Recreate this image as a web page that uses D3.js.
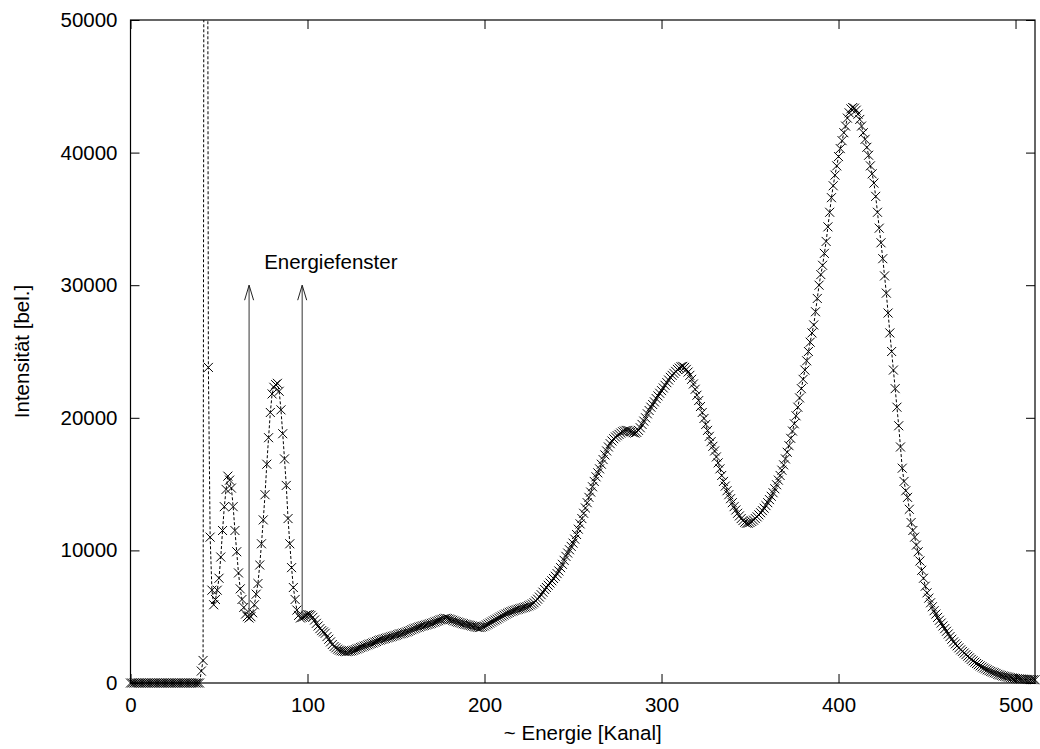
<!DOCTYPE html>
<html>
<head>
<meta charset="utf-8">
<script src="https://cdn.jsdelivr.net/npm/d3@7"></script>
<style>
body { margin: 0; background: #fff; }
text { font-family: "Liberation Sans", Arial, sans-serif; font-size: 20.5px; fill: #000; }
</style>
</head>
<body>
<svg></svg>
<script>
var width = 1040;
var height = 749;

// counts per channel, channel = index (0..511)
var counts = [
    0, 0, 0, 0, 0, 0, 0, 0, 0, 0,
    0, 0, 0, 0, 0, 0, 0, 0, 0, 0,
    0, 0, 0, 0, 0, 0, 0, 0, 0, 0,
    0, 0, 0, 0, 0, 0, 0, 0, 0, 0,
    900, 1700, 120000, 110000, 23800, 11000, 7000, 5900, 6300, 7000,
    7900, 9500, 11500, 13300, 14600, 15600, 15300, 14700, 13300, 11500,
    9900, 8300, 7100, 6300, 5700, 5200, 5000, 4900, 5000, 5300,
    5900, 6700, 7500, 8900, 10500, 12300, 14200, 16500, 18500, 20400,
    21800, 22300, 22500, 22600, 22000, 20600, 18800, 16900, 14900, 12400,
    10500, 8700, 7200, 6300, 5500, 5100, 4900, 4950, 5000, 5100,
    5150, 5150, 5100, 4950, 4750, 4500, 4300, 4100, 3950, 3850,
    3750, 3500, 3300, 3100, 2900, 2750, 2650, 2550, 2480, 2430,
    2400, 2380, 2360, 2380, 2400, 2430, 2470, 2520, 2570, 2620,
    2680, 2720, 2780, 2820, 2880, 2930, 2980, 3020, 3080, 3130,
    3200, 3240, 3280, 3320, 3360, 3400, 3440, 3480, 3520, 3560,
    3600, 3650, 3700, 3720, 3760, 3800, 3850, 3900, 3960, 4020,
    4080, 4130, 4180, 4220, 4270, 4310, 4340, 4380, 4420, 4460,
    4500, 4550, 4600, 4650, 4700, 4760, 4800, 4850, 4880, 4860,
    4820, 4780, 4730, 4680, 4630, 4590, 4550, 4510, 4470, 4430,
    4400, 4370, 4340, 4300, 4260, 4230, 4200, 4180, 4200, 4250,
    4300, 4380, 4450, 4520, 4600, 4680, 4750, 4820, 4900, 4980,
    5050, 5120, 5200, 5260, 5320, 5380, 5430, 5480, 5520, 5560,
    5600, 5640, 5680, 5720, 5760, 5820, 5880, 5960, 6050, 6180,
    6320, 6480, 6660, 6850, 7050, 7200, 7370, 7540, 7710, 7880,
    8050, 8250, 8450, 8700, 8950, 9250, 9550, 9800, 10050, 10300,
    10550, 10850, 11200, 11600, 12000, 12400, 12800, 13200, 13600, 14000,
    14400, 14800, 15200, 15550, 15850, 16150, 16500, 16850, 17200, 17500,
    17800, 18050, 18250, 18420, 18550, 18650, 18750, 18850, 18950, 19000,
    19050, 19050, 19000, 18950, 18880, 18850, 18900, 19050, 19250, 19500,
    19750, 20000, 20300, 20550, 20800, 21000, 21200, 21450, 21650, 21850,
    22050, 22250, 22450, 22650, 22850, 23050, 23200, 23350, 23500, 23650,
    23750, 23850, 23880, 23800, 23650, 23450, 23200, 22900, 22550, 22150,
    21700, 21300, 20850, 20400, 19950, 19500, 19050, 18600, 18200, 17850,
    17500, 17050, 16600, 16150, 15650, 15200, 14850, 14500, 14200, 13900,
    13600, 13300, 13050, 12800, 12600, 12400, 12250, 12120, 12050, 12050,
    12100, 12180, 12280, 12400, 12530, 12680, 12840, 13000, 13180, 13380,
    13600, 13830, 14080, 14350, 14650, 14950, 15300, 15650, 16050, 16450,
    16900, 17400, 17900, 18450, 19000, 19550, 20150, 20800, 21500, 22200,
    22900, 23600, 24300, 25000, 25700, 26400, 27000, 28000, 29000, 30000,
    30800, 31500, 32400, 33300, 34400, 35500, 36600, 37500, 38300, 39000,
    39700, 40300, 40900, 41500, 42000, 42600, 43000, 43300, 43400, 43350,
    43200, 42900, 42500, 42000, 41500, 41000, 40400, 39800, 39000, 38400,
    37700, 36700, 35500, 34300, 33200, 32000, 30700, 29400, 27900, 26400,
    25000, 23600, 22200, 20800, 19400, 17800, 16200, 15200, 14500, 14000,
    13100, 12100, 11500, 11000, 10400, 9900, 9200, 8500, 7900, 7300,
    6800, 6400, 6050, 5750, 5450, 5200, 4950, 4730, 4520, 4300,
    4100, 3900, 3700, 3500, 3300, 3100, 2950, 2800, 2650, 2500,
    2380, 2260, 2140, 2020, 1900, 1780, 1670, 1570, 1470, 1380,
    1290, 1210, 1130, 1060, 990, 930, 870, 820, 770, 720,
    650, 610, 570, 530, 500, 470, 440, 410, 380, 360,
    340, 325, 310, 300, 290, 280, 270, 265, 260, 255,
    250, 245
];

var xTicks = [0, 100, 200, 300, 400, 500];
var yTicks = [0, 10000, 20000, 30000, 40000, 50000];

// energy window arrows (channel) and annotation
var windowChannels = [67, 97];
var windowFrom = 5000;
var windowTo = 30000;
var windowLabel = "Energiefenster";
var windowLabelPos = [75.5, 31750];

var x = d3.scaleLinear().domain([0, 511]).range([130.5, 1035]);
var y = d3.scaleLinear().domain([0, 50000]).range([683, 20]);

var svg = d3.select("svg")
            .attr("width", width)
            .attr("height", height);

svg.append("defs")
    .append("clipPath")
        .attr("id", "clip")
    .append("rect")
        .attr("x", x.range()[0] - 6)
        .attr("y", y.range()[1])
        .attr("width", x.range()[1] - x.range()[0] + 12)
        .attr("height", y.range()[0] - y.range()[1] + 6);

// axes, ticks pointing inward
function styleAxis(g) {
    g.select(".domain").remove();
    g.selectAll(".tick line").attr("stroke", "#000").attr("stroke-width", 1);
    g.selectAll(".tick text").style("font-size", "20.5px").attr("fill", "#000");
}

svg.append("g")
    .attr("transform", "translate(0," + y(0) + ")")
    .call(d3.axisBottom(x).tickValues(xTicks).tickSize(-9).tickPadding(14).tickFormat(d3.format("d")))
    .call(styleAxis);

svg.append("g")
    .attr("transform", "translate(0," + y(50000) + ")")
    .call(d3.axisTop(x).tickValues(xTicks).tickSize(-9).tickFormat(""))
    .call(styleAxis);

svg.append("g")
    .attr("transform", "translate(" + x(0) + ",0)")
    .call(d3.axisLeft(y).tickValues(yTicks).tickSize(-9).tickPadding(13).tickFormat(d3.format("d")))
    .call(styleAxis);

svg.append("g")
    .attr("transform", "translate(" + x(511) + ",0)")
    .call(d3.axisRight(y).tickValues(yTicks).tickSize(-9).tickFormat(""))
    .call(styleAxis);

svg.append("rect")
    .attr("x", x(0))
    .attr("y", y(50000))
    .attr("width", x(511) - x(0))
    .attr("height", y(0) - y(50000))
    .attr("fill", "none")
    .attr("stroke", "#000")
    .attr("stroke-width", 1.2);

// axis titles
svg.append("text")
    .attr("transform", "translate(22," + (y(0) + y(50000)) / 2 + ") rotate(-90)")
    .attr("text-anchor", "middle")
    .attr("dy", "0.35em")
    .text("Intensität [bel.]");

svg.append("text")
    .attr("x", (x(0) + x(511)) / 2)
    .attr("y", 733)
    .attr("text-anchor", "middle")
    .attr("dy", "0.35em")
    .text("~ Energie [Kanal]");

// data: dashed line + x markers
var points = counts.map((c, i) => ({ ch: i, v: c }));

var plot = svg.append("g").attr("clip-path", "url(#clip)");

var line = d3.line()
            .x(d => x(d.ch))
            .y(d => y(d.v));

plot.append("path")
    .datum(points)
    .attr("d", line)
    .attr("fill", "none")
    .attr("stroke", "#000")
    .attr("stroke-width", 1)
    .attr("stroke-dasharray", "3,2");

plot.selectAll(".pt")
    .data(points.filter(d => d.v <= 50000))
    .enter()
    .append("path")
        .classed("pt", true)
        .attr("transform", d => "translate(" + x(d.ch) + "," + y(d.v) + ")")
        .attr("d", "M-4.5,-4.5L4.5,4.5M-4.5,4.5L4.5,-4.5")
        .attr("fill", "none")
        .attr("stroke", "#000")
        .attr("stroke-width", 1);

// energy window arrows
var arrows = svg.append("g");
windowChannels.forEach(function(ch) {
    var ax = x(ch);
    var top = y(windowTo);
    arrows.append("line")
        .attr("x1", ax).attr("x2", ax)
        .attr("y1", y(windowFrom)).attr("y2", top)
        .attr("stroke", "#555")
        .attr("stroke-width", 1.2);
    arrows.append("path")
        .attr("d", "M" + (ax - 4.5) + "," + (top + 15) + "L" + ax + "," + top + "L" + (ax + 4.5) + "," + (top + 15))
        .attr("fill", "none")
        .attr("stroke", "#222")
        .attr("stroke-width", 1);
});

svg.append("text")
    .attr("x", x(windowLabelPos[0]))
    .attr("y", y(windowLabelPos[1]))
    .attr("dy", "0.35em")
    .text(windowLabel);
</script>
</body>
</html>
